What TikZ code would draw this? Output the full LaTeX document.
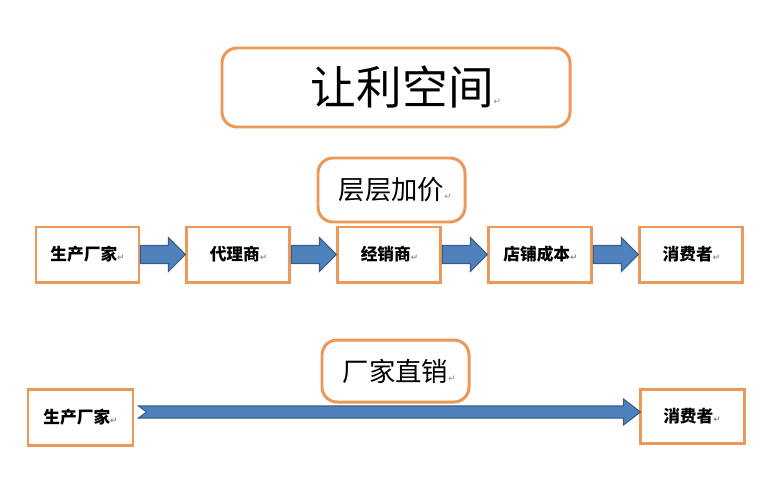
\documentclass[tikz,border=0pt]{standalone}
\usepackage{fontspec}
\setmainfont{Noto Sans CJK SC}
\newfontfamily\markfont{DejaVu Sans}
\usepackage{xcolor}
\usepackage{tikz}
\usetikzlibrary{positioning, calc}

\definecolor{boxorange}{RGB}{236,152,88}
\definecolor{flowblue}{RGB}{79,129,189}
\definecolor{flowedge}{RGB}{56,93,138}

% small paragraph mark after each text
\newcommand\pmark{{\markfont\fontsize{5}{5}\selectfont\color{black!45}↵}}

% block arrow from the east side of #1 to the west side of #2
\newcommand\flowarrow[2]{%
  \path let \p1=(#1.east), \p2=(#2.west) in [flow]
    (\x1,\y1+0.18cm) -- (\x2-0.34cm,\y1+0.18cm) -- (\x2-0.34cm,\y1+0.34cm) --
    (\x2,\y1) -- (\x2-0.34cm,\y1-0.34cm) -- (\x2-0.34cm,\y1-0.18cm) --
    (\x1,\y1-0.18cm) -- cycle;}

\begin{document}
\begin{tikzpicture}[
    title/.style={rectangle, draw=boxorange, line width=1.7pt, rounded corners=0.3cm, fill=white, inner sep=0pt},
    stage/.style={rectangle, draw=boxorange, line width=1.7pt, fill=white, minimum width=2.06cm, minimum height=1.1cm, inner sep=0pt, font=\fontsize{9.5}{11}\selectfont\bfseries},
    flow/.style={draw=flowedge, line width=0.6pt, fill=flowblue}]

    \useasboundingbox (0,0) rectangle (15.62,-9.58);

    \node [title, minimum width=6.96cm, minimum height=1.58cm, font=\fontsize{26}{30}\selectfont] (space) at (7.92,-1.75) {\hspace*{0.4cm}让利空间\pmark};
    \node [title, minimum width=2.94cm, minimum height=1.28cm, font=\fontsize{15}{18}\selectfont] (markup) at (7.83,-3.80) {\hspace*{0.15cm}层层加价\pmark};

    % chain with middlemen
    \node [stage] (maker) at (1.75,-5.09) {生产厂家\pmark};
    \node [stage, right=0.9cm of maker] (agent) {代理商\pmark};
    \node [stage, right=0.9cm of agent] (dealer) {经销商\pmark};
    \node [stage, right=0.9cm of dealer] (shop) {店铺成本\pmark};
    \node [stage, right=0.9cm of shop] (buyer) {消费者\pmark};

    \flowarrow{maker}{agent}
    \flowarrow{agent}{dealer}
    \flowarrow{dealer}{shop}
    \flowarrow{shop}{buyer}

    % direct sale
    \node [title, minimum width=2.94cm, minimum height=1.24cm, font=\fontsize{15}{18}\selectfont] (direct) at (7.91,-7.42) {\hspace*{0.15cm}厂家直销\pmark};
    \node [stage, minimum width=2.1cm, minimum height=1.12cm] (maker2) at (1.61,-8.34) {生产厂家\pmark};
    \node [stage, minimum width=2.08cm, minimum height=1.08cm] (buyer2) at (13.84,-8.32) {消费者\pmark};

    \path let \p1=(maker2.east), \p2=(buyer2.west) in [flow]
      (\x1+0.08cm,\y1+0.22cm) -- (\x2-0.3cm,\y1+0.22cm) -- (\x2-0.3cm,\y1+0.36cm) --
      (\x2+0.04cm,\y1+0.1cm) -- (\x2-0.3cm,\y1-0.16cm) -- (\x2-0.3cm,\y1-0.02cm) --
      (\x1+0.08cm,\y1-0.02cm) -- (\x1+0.24cm,\y1+0.1cm) -- cycle;
\end{tikzpicture}
\end{document}
